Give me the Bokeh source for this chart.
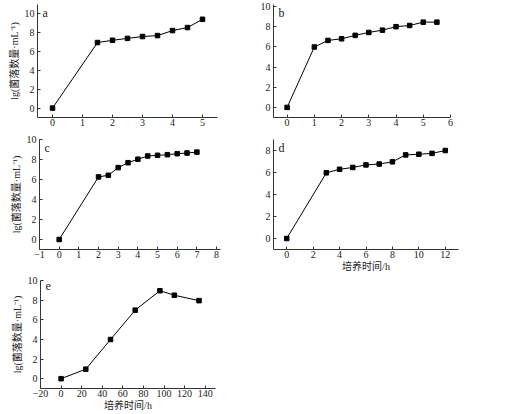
from bokeh.models import Range1d, FixedTicker, Label
from bokeh.layouts import column, row
from bokeh.plotting import figure
from bokeh.embed import file_html
from bokeh.resources import INLINE

FONT = "'Liberation Serif', 'Noto Sans CJK SC'"
Y_LABEL = "lg(菌落数量·mL⁻¹)"
X_LABEL = "培养时间/h"

# panel a
a_x = [0, 1.5, 2, 2.5, 3, 3.5, 4, 4.5, 5]
a_y = [0, 6.96, 7.2, 7.4, 7.6, 7.7, 8.23, 8.55, 9.43]
# panel b
b_x = [0, 1, 1.5, 2, 2.5, 3, 3.5, 4, 4.5, 5, 5.5]
b_y = [0, 5.99, 6.64, 6.8, 7.14, 7.43, 7.66, 8.0, 8.12, 8.45, 8.45]
# panel c
c_x = [0, 2, 2.5, 3, 3.5, 4, 4.5, 5, 5.5, 6, 6.5, 7]
c_y = [0, 6.26, 6.42, 7.19, 7.68, 8.03, 8.35, 8.42, 8.48, 8.58, 8.65, 8.74]
# panel d
d_x = [0, 3, 4, 5, 6, 7, 8, 9, 10, 11, 12]
d_y = [0, 5.97, 6.29, 6.46, 6.69, 6.77, 6.97, 7.6, 7.66, 7.74, 8.0]
# panel e
e_x = [0, 24, 48, 72, 96, 110, 134]
e_y = [0, 0.97, 3.99, 6.98, 8.96, 8.5, 7.95]

a_xticks = [0, 1, 2, 3, 4, 5]
b_xticks = [0, 1, 2, 3, 4, 5, 6]
c_xticks = [-1, 0, 1, 2, 3, 4, 5, 6, 7, 8]
d_xticks = [0, 2, 4, 6, 8, 10, 12]
e_xticks = [-20, 0, 20, 40, 60, 80, 100, 120, 140]
y_ticks10 = [0, 2, 4, 6, 8, 10]
y_ticks8 = [0, 2, 4, 6, 8]


def make_panel(xs, ys, xr, yr, xticks, yticks, letter, width, height,
               left, right, top, bottom, ylabel=None, xlabel=None):
    p = figure(width=width, height=height, output_backend="svg",
               toolbar_location=None, x_range=Range1d(*xr), y_range=Range1d(*yr),
               min_border_left=left, min_border_right=right,
               min_border_top=top, min_border_bottom=bottom)
    p.outline_line_color = None
    p.grid.grid_line_color = None
    p.background_fill_color = "white"
    p.border_fill_color = "white"
    p.xaxis.ticker = FixedTicker(ticks=xticks)
    p.yaxis.ticker = FixedTicker(ticks=yticks)
    for ax in (p.xaxis, p.yaxis):
        ax.major_tick_in = 3
        ax.major_tick_out = 0
        ax.minor_tick_line_color = None
        ax.major_label_text_font = FONT
        ax.major_label_text_font_size = "10px"
        ax.major_label_text_color = "#222222"
        ax.axis_line_color = "#333333"
        ax.major_tick_line_color = "#333333"
        ax.axis_label_text_font = FONT
        ax.axis_label_text_font_size = "10px"
        ax.axis_label_text_font_style = "normal"
        ax.axis_label_text_color = "#222222"
        ax.axis_label_text_line_height = 0.9
    p.xaxis.major_label_standoff = 1
    p.xaxis.axis_label_standoff = 0
    p.yaxis.major_label_standoff = 3
    p.yaxis.axis_label_standoff = 2
    if ylabel:
        p.yaxis.axis_label = ylabel
    if xlabel:
        p.xaxis.axis_label = xlabel
    p.line(xs, ys, line_color="black", line_width=1)
    p.scatter(xs, ys, marker="square", size=4.5, color="black")
    p.add_layout(Label(x=xr[0], y=yr[1], text=letter, x_offset=5, y_offset=-1,
                       text_baseline="top", text_font=FONT,
                       text_font_size="12px", text_color="#222222"))
    return p


pa = make_panel(a_x, a_y, (-0.5, 5.5), (-1, 11), a_xticks, y_ticks10, "a",
                250, 134, 37, 33, 4, 17, ylabel=Y_LABEL)
pb = make_panel(b_x, b_y, (-0.5, 6), (-1, 10.2), b_xticks, y_ticks10, "b",
                258, 134, 23, 58, 4, 17)
pc = make_panel(c_x, c_y, (-1, 8.2), (-1, 10), c_xticks, y_ticks10, "c",
                250, 140, 39, 30, 5, 23, ylabel=Y_LABEL)
pd = make_panel(d_x, d_y, (-1, 13), (-1, 9), d_xticks, y_ticks8, "d",
                258, 140, 23, 50, 5, 23, xlabel=X_LABEL)
pe = make_panel(e_x, e_y, (-20, 150), (-1, 10), e_xticks, y_ticks10, "e",
                250, 139, 40, 35, 6, 21, ylabel=Y_LABEL, xlabel=X_LABEL)

layout = column(row(pa, pb), row(pc, pd), row(pe))
open("out.html", "w").write(file_html(layout, INLINE))
